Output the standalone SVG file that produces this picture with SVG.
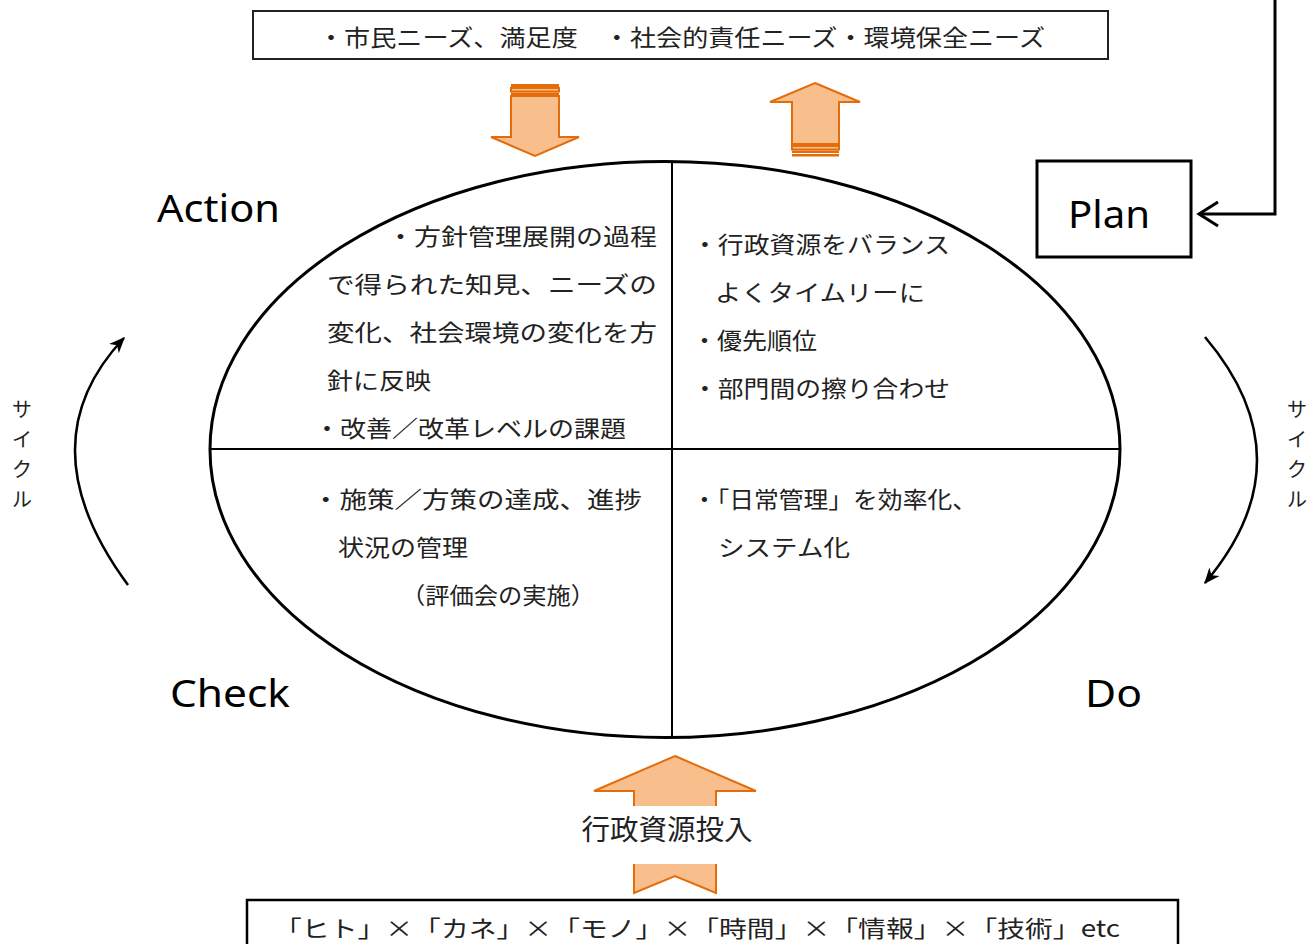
<svg xmlns="http://www.w3.org/2000/svg" width="1314" height="944" viewBox="0 0 1314 944">
<defs>
<style>
.jp{font-family:"Noto Sans CJK JP","Noto Sans",sans-serif;font-size:23px;fill:#222}
.cy{font-family:"Noto Sans CJK JP","Noto Sans",sans-serif;font-size:20px;fill:#222;text-anchor:middle}
.lbl{font-family:"Noto Sans","DejaVu Sans",sans-serif;font-size:38px;fill:#000}
.orange{fill:#F8BF8D;stroke:#E46C0A;stroke-width:2;stroke-linejoin:miter}
.band{fill:#E46C0A}
.line{fill:none;stroke:#000;stroke-width:3}
</style>
<marker id="ah" viewBox="0 0 12 10" refX="11" refY="5" markerWidth="16" markerHeight="14" markerUnits="userSpaceOnUse" orient="auto">
<path d="M0,0 L12,5 L0,10 L3.5,5 Z" fill="#000"/>
</marker>
</defs>
<rect width="1314" height="944" fill="#fff"/>

<g id="needs">
<rect x="253" y="11" width="855" height="48" fill="#fff" stroke="#222" stroke-width="2"/>
<text class="jp" x="318" y="46" font-size="24" textLength="727" lengthAdjust="spacingAndGlyphs">・市民ニーズ、満足度　・社会的責任ニーズ・環境保全ニーズ</text>
</g>

<g id="resources">
<rect x="247" y="900" width="931" height="60" fill="#fff" stroke="#000" stroke-width="2.5"/>
<text class="jp" x="274" y="937" font-size="24" textLength="846" lengthAdjust="spacingAndGlyphs">「ヒト」×「カネ」×「モノ」×「時間」×「情報」×「技術」etc</text>
</g>

<g id="connectors">
<path class="line" d="M1275,0 L1275,214 L1200,214"/>
<path class="line" d="M1218,202 L1199,214 L1218,226"/>
<path d="M128,585 Q24,444 124,338" fill="none" stroke="#000" stroke-width="2.5" marker-end="url(#ah)"/>
<path d="M1205,337 Q1309,460 1205,583" fill="none" stroke="#000" stroke-width="2.5" marker-end="url(#ah)"/>
<g id="arrow-down">
<rect x="511" y="84" width="48" height="3" class="band"/>
<rect x="511" y="88" width="48" height="3.5" class="orange" stroke-width="1"/>
<rect x="511" y="92.5" width="48" height="2.5" class="band"/>
<path class="orange" d="M511,96 L559,96 L559,137 L579,137 L535,156 L491,137 L511,137 Z"/>
</g>
<g id="arrow-up">
<path class="orange" d="M815,83 L860,102 L839,102 L839,144 L792,144 L792,102 L770,102 Z"/>
<rect x="792" y="146" width="47" height="3.5" class="orange" stroke-width="1"/>
<rect x="792" y="150.5" width="47" height="2.5" class="band"/>
<rect x="792" y="154" width="47" height="2.5" class="band"/>
</g>
<g id="arrow-input">
<path class="orange" d="M675,756 L756,791 L716,791 L716,893 L675,876 L634,893 L634,791 L594,791 Z"/>
<rect x="575" y="806" width="185" height="58" fill="#fff"/>
<text x="667" y="840" text-anchor="middle" font-family="'Noto Sans CJK JP',sans-serif" font-size="28" fill="#222" textLength="171" lengthAdjust="spacingAndGlyphs">行政資源投入</text>
</g>
</g>

<g id="cycle">
<ellipse cx="665" cy="449.5" rx="455" ry="288" fill="none" stroke="#000" stroke-width="3"/>
<line x1="672" y1="162" x2="672" y2="737" stroke="#000" stroke-width="2"/>
<line x1="211" y1="449" x2="1119" y2="449" stroke="#000" stroke-width="2"/>
</g>

<g id="action">
<text class="lbl" x="157" y="222" textLength="123" lengthAdjust="spacingAndGlyphs">Action</text>
<text class="jp" x="387" y="245" textLength="270" lengthAdjust="spacingAndGlyphs">・方針管理展開の過程</text>
<text class="jp" x="327" y="293" textLength="330" lengthAdjust="spacingAndGlyphs">で得られた知見、ニーズの</text>
<text class="jp" x="327" y="341" textLength="330" lengthAdjust="spacingAndGlyphs">変化、社会環境の変化を方</text>
<text class="jp" x="327" y="389" textLength="104" lengthAdjust="spacingAndGlyphs">針に反映</text>
<text class="jp" x="314" y="437" textLength="312" lengthAdjust="spacingAndGlyphs">・改善／改革レベルの課題</text>
</g>

<g id="plan">
<rect x="1037" y="161" width="154" height="96" fill="#fff" stroke="#000" stroke-width="3"/>
<text class="lbl" x="1068" y="228" textLength="82" lengthAdjust="spacingAndGlyphs">Plan</text>
<text class="jp" x="692" y="253" textLength="258" lengthAdjust="spacingAndGlyphs">・行政資源をバランス</text>
<text class="jp" x="715" y="301" textLength="210" lengthAdjust="spacingAndGlyphs">よくタイムリーに</text>
<text class="jp" x="692" y="349" textLength="125" lengthAdjust="spacingAndGlyphs">・優先順位</text>
<text class="jp" x="692" y="397" textLength="258" lengthAdjust="spacingAndGlyphs">・部門間の擦り合わせ</text>
</g>

<g id="check">
<text class="lbl" x="170" y="707" textLength="120" lengthAdjust="spacingAndGlyphs">Check</text>
<text class="jp" x="312" y="508" textLength="330" lengthAdjust="spacingAndGlyphs">・施策／方策の達成、進捗</text>
<text class="jp" x="338" y="556" textLength="130" lengthAdjust="spacingAndGlyphs">状況の管理</text>
<text class="jp" x="401" y="604" textLength="194" lengthAdjust="spacingAndGlyphs">（評価会の実施）</text>
</g>

<g id="do">
<text class="lbl" x="1085" y="707" textLength="57" lengthAdjust="spacingAndGlyphs">Do</text>
<text class="jp" x="692" y="508" textLength="285" lengthAdjust="spacingAndGlyphs">・「日常管理」を効率化、</text>
<text class="jp" x="718" y="556" textLength="132" lengthAdjust="spacingAndGlyphs">システム化</text>
</g>

<g id="cycle-labels">
<text class="cy" x="22" y="417">サ</text>
<text class="cy" x="22" y="447">イ</text>
<text class="cy" x="22" y="477">ク</text>
<text class="cy" x="22" y="507">ル</text>
<text class="cy" x="1297" y="417">サ</text>
<text class="cy" x="1297" y="447">イ</text>
<text class="cy" x="1297" y="477">ク</text>
<text class="cy" x="1297" y="507">ル</text>
</g>
</svg>
